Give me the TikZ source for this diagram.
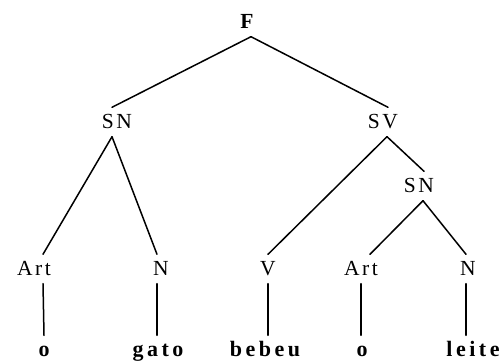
\documentclass[tikz,border=0pt]{standalone}
\usepackage{fontspec}
\setmainfont{Liberation Serif}
\newfontfamily\labelfont[LetterSpace=12]{Liberation Serif}
\newfontfamily\wordfont[LetterSpace=16]{Liberation Serif Bold}
\begin{document}
\begin{tikzpicture}[x=1pt,y=1pt,
  cat/.style={anchor=base,inner sep=7.5pt,text height=14pt,text depth=0pt,
              font=\fontsize{21.5}{22}\labelfont},
  word/.style={cat,font=\fontsize{22}{22}\wordfont},
  branch/.style={line width=1.5pt,line cap=round}]
\useasboundingbox (0,0) rectangle (501,361);

% categories (baselines measured from the top edge)
\node[cat,font=\fontsize{21.5}{22}\bfseries] (F) at (247,361-29) {F};
\node[cat] (SN)  at (117,361-129) {SN};
\node[cat] (SV)  at (383,361-129) {SV};
\node[cat] (SN2) at (419,361-193) {SN};
\node[cat] (Art1) at (34,361-276) {Art};
\node[cat] (N1)   at (161,361-276) {N};
\node[cat] (V)    at (268,361-276) {V};
\node[cat] (Art2) at (361,361-276) {Art};
\node[cat] (N2)   at (468,361-276) {N};

% terminal words
\node[word] (w1) at (44,361-357)  {o};
\node[word] (w2) at (158,361-357) {gato};
\node[word] (w3) at (265,361-357) {bebeu};
\node[word] (w4) at (362,361-357) {o};
\node[word] (w5) at (473,361-357) {leite};

% branches
\draw[branch] ([xshift=4]F.south) -- ([xshift=-5]SN.north);
\draw[branch] ([xshift=4]F.south) -- ([xshift=5]SV.north);
\draw[branch] ([xshift=-5]SN.south) -- ([xshift=9]Art1.north);
\draw[branch] ([xshift=-5]SN.south) -- ([xshift=-4]N1.north);
\draw[branch] ([xshift=4]SV.south) -- (V.north);
\draw[branch] ([xshift=4]SV.south) -- ([xshift=5]SN2.north);
\draw[branch] ([xshift=4]SN2.south) -- ([xshift=9]Art2.north);
\draw[branch] ([xshift=4]SN2.south) -- ([xshift=-2]N2.north);

% unary links to the words
\draw[branch] ([xshift=9]Art1.south) -- (w1.north);
\draw[branch] ([xshift=-4]N1.south) -- ([xshift=-1]w2.north);
\draw[branch] (V.south) -- ([xshift=3]w3.north);
\draw[branch] (Art2.south) -- ([xshift=-1]w4.north);
\draw[branch] ([xshift=-2]N2.south) -- ([xshift=-7]w5.north);
\end{tikzpicture}
\end{document}
